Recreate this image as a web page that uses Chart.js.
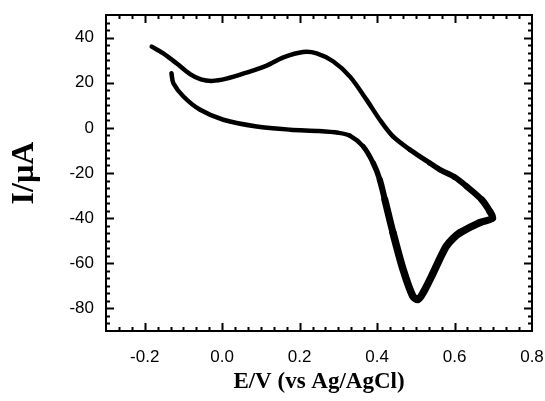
<!DOCTYPE html>
<html>
<head>
<meta charset="utf-8">
<script src="https://cdn.jsdelivr.net/npm/chart.js@4/dist/chart.umd.min.js"></script>
<style>
	body { margin: 0; background: white; }
	#wrap { width: 545px; height: 401px; }
</style>
</head>
<body>
<div id="wrap"><canvas id="cv"></canvas></div>
<script>
// potential (V vs Ag/AgCl) and current (uA), one sweep around the loop
var scanE = [-0.182, -0.152, -0.118, -0.083, -0.055, -0.027, 0.011, 0.063, 0.115, 0.158,
	0.209, 0.244, 0.287, 0.330, 0.373, 0.407, 0.441, 0.485, 0.536, 0.562,
	0.600, 0.631, 0.670, 0.691, 0.698, 0.665, 0.614, 0.596, 0.579, 0.562,
	0.545, 0.519, 0.506, 0.492, 0.467, 0.441, 0.420, 0.407, 0.390, 0.364,
	0.330, 0.300, 0.250, 0.175, 0.089, 0.003, -0.057, -0.100, -0.126, -0.131];
var scanI = [36.0, 33.0, 28.6, 23.8, 21.5, 20.8, 21.8, 24.5, 27.6, 31.2,
	33.6, 33.0, 29.4, 22.7, 12.4, 3.6, -3.8, -9.7, -15.6, -18.5,
	-21.8, -25.9, -31.8, -37.0, -40.0, -42.0, -46.5, -49.0, -52.4, -58.0,
	-64.2, -73.0, -76.0, -74.5, -62.7, -46.4, -31.8, -23.0, -15.6, -8.2,
	-3.5, -2.2, -1.4, -0.8, 0.6, 3.6, 8.0, 13.9, 19.8, 24.2];
var xTicks = [-0.2, 0.0, 0.2, 0.4, 0.6, 0.8];
var yTicks = [-80, -60, -40, -20, 0, 20, 40];

var points = scanE.map(function (e, i) {
	return { x: e, y: scanI[i] };
});

function noPad(scale) {
	scale.paddingLeft = 0;
	scale.paddingRight = 0;
	scale.paddingTop = 0;
	scale.paddingBottom = 0;
}

// frame with inward major/minor ticks on all four sides
Chart.register({
	id: 'frameTicks',
	afterDatasetsDraw: function (chart) {
		var ctx = chart.ctx;
		var a = chart.chartArea;
		var xs = chart.scales.x;
		var ys = chart.scales.y;
		ctx.save();
		ctx.strokeStyle = '#000';
		ctx.lineWidth = 2;
		ctx.strokeRect(a.left, a.top, a.right - a.left, a.bottom - a.top);
		ctx.beginPath();
		var k, v, p, len;
		for (k = 1; k < 33; k++) {
			v = -0.3 + k / 30;
			len = (k % 6 === 3) ? 8 : 4;
			p = Math.round(xs.getPixelForValue(v)) + 0.5;
			ctx.moveTo(p, a.bottom); ctx.lineTo(p, a.bottom - len);
			ctx.moveTo(p, a.top); ctx.lineTo(p, a.top + len);
		}
		for (k = 1; k < 42; k++) {
			v = -90 + k * 10 / 3;
			len = (k % 6 === 3) ? 8 : 4;
			p = Math.round(ys.getPixelForValue(v)) + 0.5;
			ctx.moveTo(a.left, p); ctx.lineTo(a.left + len, p);
			ctx.moveTo(a.right, p); ctx.lineTo(a.right - len, p);
		}
		ctx.stroke();
		ctx.restore();
	}
});

var ctx = document.getElementById('cv').getContext('2d');
var cvChart = new Chart(ctx, {
	type: 'scatter',
	data: {
		datasets: [{
			data: points,
			showLine: true,
			borderColor: '#000',
			borderWidth: 5,
			borderJoinStyle: 'round',
			borderCapStyle: 'round',
			pointRadius: 0,
			tension: 0.3,
			// the repeated cycles spread apart on the deep part of the loop
			segment: {
				borderWidth: function (c) {
					var ym = (c.p0.parsed.y + c.p1.parsed.y) / 2;
					var t = Math.min(1, Math.max(0, (-ym - 5) / 40));
					return 4.5 + 3 * t;
				}
			}
		}]
	},
	options: {
		responsive: true,
		maintainAspectRatio: false,
		animation: false,
		layout: { padding: { top: 15, right: 13, left: 0, bottom: 0 } },
		plugins: { legend: { display: false }, tooltip: { enabled: false } },
		scales: {
			x: {
				type: 'linear',
				min: -0.3,
				max: 0.8,
				grid: { display: false, drawTicks: false },
				border: { display: false },
				afterBuildTicks: function (scale) {
					scale.ticks = xTicks.map(function (t) { return { value: t }; });
				},
				afterFit: function (scale) { scale.height = 70; noPad(scale); },
				ticks: {
					padding: 16,
					color: '#000',
					font: { family: 'Liberation Sans, Arial', size: 17 },
					maxRotation: 0,
					callback: function (v) { return v.toFixed(1); }
				},
				title: {
					display: true,
					text: 'E/V (vs Ag/AgCl)',
					color: '#000',
					font: { family: 'Liberation Serif, Times New Roman', size: 23, weight: 'bold' },
					padding: { top: 0, bottom: 5 }
				}
			},
			y: {
				type: 'linear',
				min: -90,
				max: 50,
				grid: { display: false, drawTicks: false },
				border: { display: false },
				afterBuildTicks: function (scale) {
					scale.ticks = yTicks.map(function (t) { return { value: t }; });
				},
				afterFit: function (scale) { scale.width = 106; noPad(scale); },
				ticks: {
					padding: 12,
					color: '#000',
					font: { family: 'Liberation Sans, Arial', size: 17 }
				},
				title: {
					display: true,
					text: 'I/\u00b5A',
					color: '#000',
					font: { family: 'Liberation Serif, Times New Roman', size: 32, weight: 'bold' },
					padding: { top: 6, bottom: 0 }
				}
			}
		}
	}
});
</script>
</body>
</html>
